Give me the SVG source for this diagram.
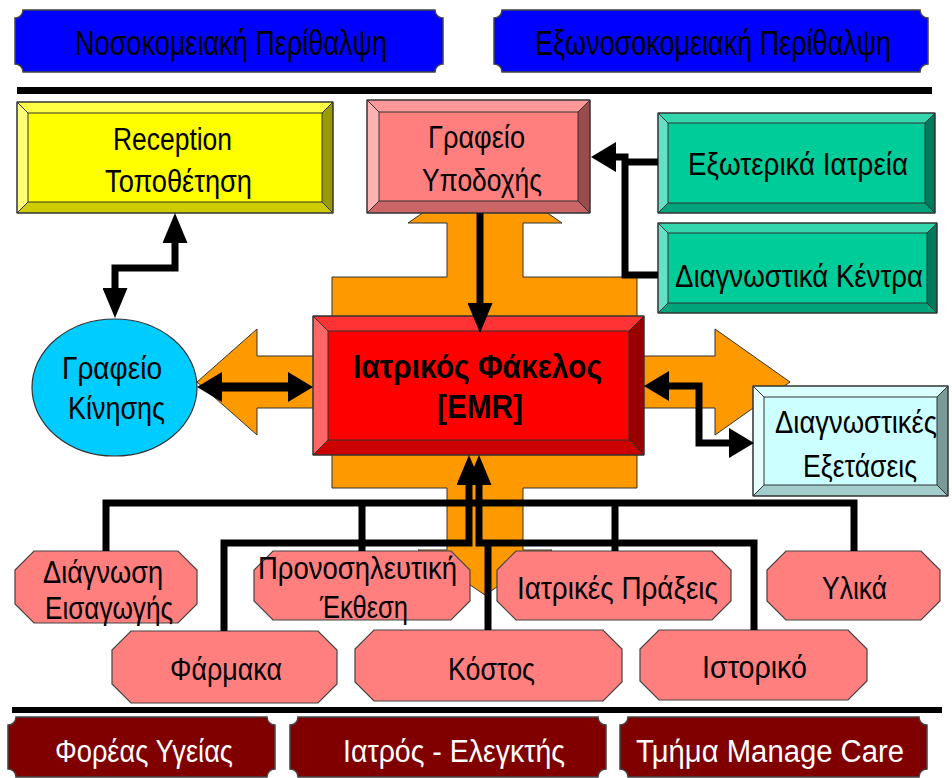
<svg xmlns="http://www.w3.org/2000/svg" width="952" height="778" viewBox="0 0 952 778">
  <defs>
    <style>
      text { font-family: "Liberation Sans", Arial, sans-serif; font-size: 31px; fill: #000; text-anchor: middle; }
      .big { font-size: 35px; }
      .bold { font-weight: bold; font-size: 33px; }
      .white { fill: #fff; }
      .edge { stroke: #333; stroke-width: 1; }
      .plaque-blue { fill: #0000FF; stroke: #444; stroke-width: 1.5; }
      .plaque-red { fill: #800000; stroke: #444; stroke-width: 1.5; }
      .oct { fill: #FF7F7F; stroke: #444; stroke-width: 1.2; }
      .orange { fill: #FF9900; stroke: #333; stroke-width: 1; }
      .wire { fill: none; stroke: #000; stroke-width: 7; }
      .wire-v { marker-end: url(#headV); }
      .rule { fill: #000; }
    </style>
    <!-- arrowheads: base sits on the line end, tip points forward -->
    <marker id="headV" markerUnits="userSpaceOnUse" viewBox="0 0 30 25" refX="0" refY="12.5" markerWidth="30" markerHeight="25" orient="auto-start-reverse">
      <path d="M0,0 L30,12.5 L0,25 Z" fill="#000"/>
    </marker>
    <marker id="headH" markerUnits="userSpaceOnUse" viewBox="0 0 25 30" refX="0" refY="15" markerWidth="25" markerHeight="30" orient="auto-start-reverse">
      <path d="M0,0 L25,15 L0,30 Z" fill="#000"/>
    </marker>
  </defs>

  <rect width="952" height="778" fill="#fff"/>

  <!-- header plaques -->
  <g id="hospital-care">
    <path class="plaque-blue" d="M23,10 H435 A8,8 0 0 0 443,18 V64 A8,8 0 0 0 435,72 H23 A8,8 0 0 0 15,64 V18 A8,8 0 0 0 23,10 Z"/>
    <text class="big" x="231" y="55" textLength="312" lengthAdjust="spacingAndGlyphs">Νοσοκομειακή Περίθαλψη</text>
  </g>
  <g id="outpatient-care">
    <path class="plaque-blue" d="M502,10 H920 A8,8 0 0 0 928,18 V64 A8,8 0 0 0 920,72 H502 A8,8 0 0 0 494,64 V18 A8,8 0 0 0 502,10 Z"/>
    <text class="big" x="713" y="55" textLength="356" lengthAdjust="spacingAndGlyphs">Εξωνοσοκομειακή Περίθαλψη</text>
  </g>

  <rect class="rule" x="17" y="87" width="915" height="7"/>
  <rect class="rule" x="12" y="707" width="930" height="6"/>

  <!-- large four-way flow arrow behind the record -->
  <g id="flow-arrows">
    <polygon class="orange" points="485,170 562,223 523,223 523,277 637,277 637,356 715,356 715,329 790,382 715,435 715,408 637,408 637,488 523,488 523,550 552,550 485,595 418,550 447,550 447,488 332,488 332,408 257,408 257,435 197,382 257,329 257,356 332,356 332,277 447,277 447,223 408,223"/>
  </g>

  <!-- bevelled boxes -->
  <g id="reception">
    <rect x="17" y="102" width="316" height="111" fill="#FFFF00"/>
    <polygon class="edge" fill="#FFFF44" points="17,102 333,102 322,113 28,113"/>
    <polygon class="edge" fill="#999900" points="333,102 333,213 322,202 322,113"/>
    <polygon class="edge" fill="#CCCC00" points="333,213 17,213 28,202 322,202"/>
    <polygon class="edge" fill="#FFFF77" points="17,213 17,102 28,113 28,202"/>
    <rect x="17" y="102" width="316" height="111" fill="none" stroke="#333"/>
    <text x="172.5" y="150" textLength="119" lengthAdjust="spacingAndGlyphs">Reception</text>
    <text x="178.5" y="192" textLength="147" lengthAdjust="spacingAndGlyphs">Τοποθέτηση</text>
  </g>

  <g id="front-desk">
    <rect x="367" y="100" width="223" height="113" fill="#FF7F7F"/>
    <polygon class="edge" fill="#FF9999" points="367,100 590,100 578,112 379,112"/>
    <polygon class="edge" fill="#994C4C" points="590,100 590,213 578,201 578,112"/>
    <polygon class="edge" fill="#CC6666" points="590,213 367,213 379,201 578,201"/>
    <polygon class="edge" fill="#FFB2B2" points="367,213 367,100 379,112 379,201"/>
    <rect x="367" y="100" width="223" height="113" fill="none" stroke="#333"/>
    <text x="476.5" y="148" textLength="97" lengthAdjust="spacingAndGlyphs">Γραφείο</text>
    <text x="482" y="191" textLength="120" lengthAdjust="spacingAndGlyphs">Υποδοχής</text>
  </g>

  <g id="outpatient-clinics">
    <rect x="658" y="113" width="277" height="100" fill="#00CC99"/>
    <polygon class="edge" fill="#33D6AD" points="658,113 935,113 925,123 668,123"/>
    <polygon class="edge" fill="#007A5C" points="935,113 935,213 925,203 925,123"/>
    <polygon class="edge" fill="#00A37A" points="935,213 658,213 668,203 925,203"/>
    <polygon class="edge" fill="#66E0C2" points="658,213 658,113 668,123 668,203"/>
    <rect x="658" y="113" width="277" height="100" fill="none" stroke="#333"/>
    <text x="798" y="175" textLength="220" lengthAdjust="spacingAndGlyphs">Εξωτερικά Ιατρεία</text>
  </g>

  <g id="diagnostic-centres">
    <rect x="658" y="223" width="279" height="90" fill="#00CC99"/>
    <polygon class="edge" fill="#33D6AD" points="658,223 937,223 927,233 668,233"/>
    <polygon class="edge" fill="#007A5C" points="937,223 937,313 927,303 927,233"/>
    <polygon class="edge" fill="#00A37A" points="937,313 658,313 668,303 927,303"/>
    <polygon class="edge" fill="#66E0C2" points="658,313 658,223 668,233 668,303"/>
    <rect x="658" y="223" width="279" height="90" fill="none" stroke="#333"/>
    <text x="799" y="287" textLength="248" lengthAdjust="spacingAndGlyphs">Διαγνωστικά Κέντρα</text>
  </g>

  <g id="medical-record">
    <rect x="313" y="316" width="331" height="139" fill="#FF0000"/>
    <polygon class="edge" fill="#FF3333" points="313,316 644,316 629,331 328,331"/>
    <polygon class="edge" fill="#990000" points="644,316 644,455 629,440 629,331"/>
    <polygon class="edge" fill="#CC0000" points="644,455 313,455 328,440 629,440"/>
    <polygon class="edge" fill="#FF6666" points="313,455 313,316 328,331 328,440"/>
    <rect x="313" y="316" width="331" height="139" fill="none" stroke="#333"/>
    <text class="bold" x="477.5" y="378" textLength="249" lengthAdjust="spacingAndGlyphs">Ιατρικός Φάκελος</text>
    <text class="bold" x="480" y="418" textLength="86" lengthAdjust="spacingAndGlyphs">[EMR]</text>
  </g>

  <g id="diagnostic-tests">
    <rect x="753" y="386" width="195" height="110" fill="#CCFFFF"/>
    <polygon class="edge" fill="#D9FFFF" points="753,386 948,386 937,397 764,397"/>
    <polygon class="edge" fill="#7A9999" points="948,386 948,496 937,485 937,397"/>
    <polygon class="edge" fill="#A3CCCC" points="948,496 753,496 764,485 937,485"/>
    <polygon class="edge" fill="#E6FFFF" points="753,496 753,386 764,397 764,485"/>
    <rect x="753" y="386" width="195" height="110" fill="none" stroke="#333"/>
    <text x="856" y="433" textLength="162" lengthAdjust="spacingAndGlyphs">Διαγνωστικές</text>
    <text x="860" y="477" textLength="114" lengthAdjust="spacingAndGlyphs">Εξετάσεις</text>
  </g>

  <g id="movement-office">
    <ellipse cx="114.5" cy="387.5" rx="82.5" ry="68.5" fill="#00CCFF" stroke="#333" stroke-width="1.2"/>
    <text x="112" y="379" textLength="100" lengthAdjust="spacingAndGlyphs">Γραφείο</text>
    <text x="116.5" y="419" textLength="97" lengthAdjust="spacingAndGlyphs">Κίνησης</text>
  </g>

  <!-- record contents -->
  <g id="admission-diagnosis">
    <path class="oct" d="M34,551 H178 L197,570 V604 L178,623 H34 L15,604 V570 Z"/>
    <text x="103" y="583" textLength="120" lengthAdjust="spacingAndGlyphs">Διάγνωση</text>
    <text x="109" y="619" textLength="128" lengthAdjust="spacingAndGlyphs">Εισαγωγής</text>
  </g>
  <g id="pre-admission-report">
    <path class="oct" d="M273,551 H451 L470,570 V601 L451,620 H273 L254,601 V570 Z"/>
    <text x="357.5" y="579" textLength="199" lengthAdjust="spacingAndGlyphs">Προνοσηλευτική</text>
    <text x="364" y="618" textLength="88" lengthAdjust="spacingAndGlyphs">Έκθεση</text>
  </g>
  <g id="medical-procedures">
    <path class="oct" d="M516,551 H712 L731,570 V601 L712,620 H516 L497,601 V570 Z"/>
    <text x="617.5" y="599" textLength="201" lengthAdjust="spacingAndGlyphs">Ιατρικές Πράξεις</text>
  </g>
  <g id="supplies">
    <path class="oct" d="M786,551 H921 L940,570 V601 L921,620 H786 L767,601 V570 Z"/>
    <text x="854.5" y="599" textLength="65" lengthAdjust="spacingAndGlyphs">Υλικά</text>
  </g>
  <g id="drugs">
    <path class="oct" d="M131,631 H318 L337,650 V684 L318,703 H131 L112,684 V650 Z"/>
    <text x="226" y="680" textLength="112" lengthAdjust="spacingAndGlyphs">Φάρμακα</text>
  </g>
  <g id="cost">
    <path class="oct" d="M374,630 H603 L622,649 V682 L603,701 H374 L355,682 V649 Z"/>
    <text x="491.5" y="680" textLength="87" lengthAdjust="spacingAndGlyphs">Κόστος</text>
  </g>
  <g id="history">
    <path class="oct" d="M659,630 H848 L867,649 V681 L848,700 H659 L640,681 V649 Z"/>
    <text x="754.5" y="678" textLength="105" lengthAdjust="spacingAndGlyphs">Ιστορικό</text>
  </g>

  <!-- footer plaques -->
  <g id="health-fund">
    <path class="plaque-red" d="M16,717 H267 A8,8 0 0 0 275,725 V769 A8,8 0 0 0 267,777 H16 A8,8 0 0 0 8,769 V725 A8,8 0 0 0 16,717 Z"/>
    <text class="white" x="144" y="762" textLength="178" lengthAdjust="spacingAndGlyphs">Φορέας Υγείας</text>
  </g>
  <g id="auditing-doctor">
    <path class="plaque-red" d="M298,717 H598 A8,8 0 0 0 606,725 V769 A8,8 0 0 0 598,777 H298 A8,8 0 0 0 290,769 V725 A8,8 0 0 0 298,717 Z"/>
    <text class="white" x="454" y="762" textLength="222" lengthAdjust="spacingAndGlyphs">Ιατρός - Ελεγκτής</text>
  </g>
  <g id="managed-care">
    <path class="plaque-red" d="M628,717 H919 A8,8 0 0 0 927,725 V769 A8,8 0 0 0 919,777 H628 A8,8 0 0 0 620,769 V725 A8,8 0 0 0 628,717 Z"/>
    <text class="white" x="770" y="762" textLength="268" lengthAdjust="spacingAndGlyphs">Τμήμα Manage Care</text>
  </g>

  <!-- connectors -->
  <g id="connectors">
    <path class="wire" d="M175,243 V268 H115 V288" marker-start="url(#headV)" marker-end="url(#headV)"/>
    <path class="wire" d="M480,213 V303" marker-end="url(#headV)"/>
    <path class="wire" d="M658,275 H625 V157 H616" marker-end="url(#headH)"/>
    <path class="wire" d="M658,162 H625"/>
    <path class="wire" style="stroke-width:9" d="M222,387 H288" marker-start="url(#headH)" marker-end="url(#headH)"/>
    <path class="wire" d="M669,386 H699 V443 H729" marker-start="url(#headH)" marker-end="url(#headH)"/>
    <path class="wire" d="M106,551 V503 H854 V551"/>
    <path class="wire" d="M362,503 V551"/>
    <path class="wire" d="M615,503 V551"/>
    <path class="wire wire-v" d="M224,631 V543 H469 V485"/>
    <path class="wire wire-v" d="M754,630 V543 H479 V485"/>
    <path class="wire" d="M488,543 V630"/>
  </g>
</svg>
